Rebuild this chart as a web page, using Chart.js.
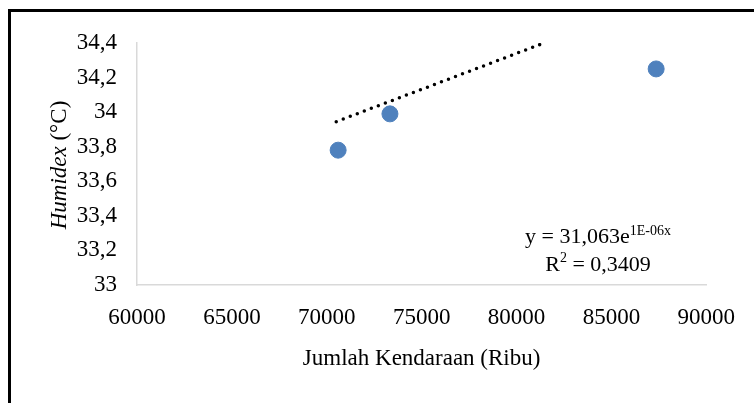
<!DOCTYPE html>
<html>
<head>
<meta charset="utf-8">
<script src="https://cdn.jsdelivr.net/npm/chart.js@4.4.1/dist/chart.umd.min.js"></script>
<style>
  body { margin: 0; background: #fff; }
  #wrap { position: relative; width: 754px; height: 403px; overflow: hidden; }
  #frame { position: absolute; left: 8px; top: 9px; width: 900px; height: 500px;
           border-left: 3px solid #000; border-top: 3px solid #000; }
  canvas { position: absolute; left: 0; top: 0; }
</style>
</head>
<body>
<div id="wrap">
  <div id="frame"></div>
  <canvas id="myChart" width="754" height="403"></canvas>
</div>
<script>
// data
var vehicles = [70600, 73330, 87360];
var humidex = [33.78, 33.99, 34.25];

// dotted exponential trendline (clipped at the top of the plot)
var trendX = [70500, 81450];
var trendY = [33.945, 34.4];

var xTickLabels = ["60000", "65000", "70000", "75000", "80000", "85000", "90000"];
var yTickLabels = ["33", "33,2", "33,4", "33,6", "33,8", "34", "34,2", "34,4"];

var equation = ["y = 31,063e", "1E-06x"];
var rSquared = ["R", "2", " = 0,3409"];

var serif = "'Liberation Serif', 'Times New Roman', serif";

var points = vehicles.map((v, i) => ({ x: v, y: humidex[i] }));
var trend = trendX.map((v, i) => ({ x: v, y: trendY[i] }));

var textPlugin = {
  id: "textPlugin",
  afterDraw: function (chart) {
    var ctx = chart.ctx;
    ctx.save();
    ctx.fillStyle = "#000";
    ctx.textBaseline = "alphabetic";

    // y axis title: italic "Humidex" + regular "(°C)"
    ctx.save();
    ctx.translate(58, 165);
    ctx.rotate(-Math.PI / 2);
    ctx.font = "italic 23px " + serif;
    var w1 = ctx.measureText("Humidex").width;
    ctx.font = "23px " + serif;
    var w2 = ctx.measureText(" (°C)").width;
    var start = -(w1 + w2) / 2;
    ctx.textAlign = "left";
    ctx.font = "italic 23px " + serif;
    ctx.fillText("Humidex", start, 8);
    ctx.font = "23px " + serif;
    ctx.fillText(" (°C)", start + w1, 8);
    ctx.restore();

    // equation of the trendline
    var cx = 598;
    ctx.textAlign = "left";
    ctx.font = "22px " + serif;
    var a = ctx.measureText(equation[0]).width;
    ctx.font = "14px " + serif;
    var b = ctx.measureText(equation[1]).width;
    var x0 = cx - (a + b) / 2;
    ctx.font = "22px " + serif;
    ctx.fillText(equation[0], x0, 243);
    ctx.font = "14px " + serif;
    ctx.fillText(equation[1], x0 + a, 235);

    ctx.font = "22px " + serif;
    var r1 = ctx.measureText(rSquared[0]).width;
    var r3 = ctx.measureText(rSquared[2]).width;
    ctx.font = "14px " + serif;
    var r2 = ctx.measureText(rSquared[1]).width;
    x0 = cx - (r1 + r2 + r3) / 2;
    ctx.font = "22px " + serif;
    ctx.fillText(rSquared[0], x0, 271);
    ctx.font = "14px " + serif;
    ctx.fillText(rSquared[1], x0 + r1, 262);
    ctx.font = "22px " + serif;
    ctx.fillText(rSquared[2], x0 + r1 + r2, 271);
    ctx.restore();
  },
};

var ctx = document.getElementById("myChart").getContext("2d");
var myChart = new Chart(ctx, {
  type: "scatter",
  data: {
    datasets: [
      {
        label: "Humidex",
        data: points,
        backgroundColor: "#4F81BD",
        borderColor: "#4F81BD",
        pointRadius: 8,
        pointHoverRadius: 8,
        order: 1,
      },
      {
        label: "Trend",
        type: "line",
        data: trend,
        showLine: true,
        borderColor: "#000",
        borderWidth: 3.5,
        borderDash: [0, 7.5],
        borderCapStyle: "round",
        pointRadius: 0,
        fill: false,
        order: 2,
      },
    ],
  },
  options: {
    responsive: false,
    animation: false,
    layout: { padding: { left: 0, top: 43, right: 46, bottom: 0 } },
    plugins: {
      legend: { display: false },
      tooltip: { enabled: false },
    },
    scales: {
      x: {
        type: "linear",
        min: 60000,
        max: 90000,
        grid: { display: false, drawTicks: false },
        border: { display: true, color: "#d9d9d9", width: 1.5 },
        ticks: {
          stepSize: 5000,
          padding: 19,
          color: "#000",
          font: { family: serif, size: 23 },
          maxRotation: 0,
          callback: function (v, i) { return xTickLabels[i]; },
        },
        title: {
          display: true,
          text: "Jumlah Kendaraan (Ribu)",
          color: "#000",
          font: { family: serif, size: 23 },
          padding: { top: 0, bottom: 30 },
        },
        afterFit: function (scale) { scale.height = 118; },
      },
      y: {
        min: 33,
        max: 34.4,
        grid: { display: false, drawTicks: false },
        border: { display: true, color: "#d9d9d9", width: 1.5 },
        ticks: {
          stepSize: 0.2,
          padding: 20,
          color: "#000",
          font: { family: serif, size: 23 },
          callback: function (v, i) { return yTickLabels[i]; },
        },
        afterFit: function (scale) { scale.width = 137; },
      },
    },
  },
  plugins: [textPlugin],
});
</script>
</body>
</html>
